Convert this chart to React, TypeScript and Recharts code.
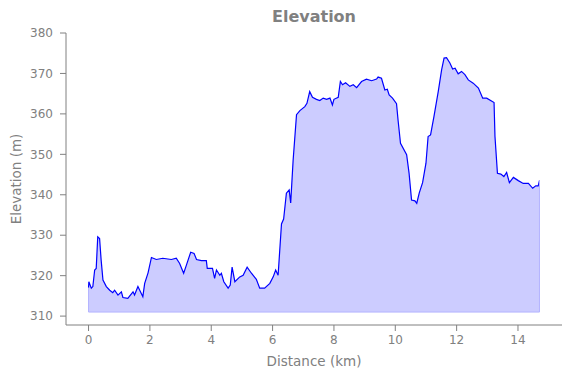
import React from "react";
import {
  AreaChart,
  Area,
  XAxis,
  YAxis,
  ReferenceLine,
} from "recharts";

// distance along the track (km)
const distanceKm = [
  0.0, 0.01, 0.09, 0.14, 0.2, 0.25, 0.3, 0.36, 0.41, 0.47, 0.58, 0.69, 0.79, 0.85,
  0.96, 1.07, 1.12, 1.28, 1.45, 1.5, 1.61, 1.77, 1.83, 1.94, 2.05, 2.21, 2.42, 2.7,
  2.86, 2.97, 3.1, 3.19, 3.33, 3.44, 3.52, 3.68, 3.84, 3.87, 4.04, 4.11, 4.17, 4.28,
  4.33, 4.41, 4.55, 4.62, 4.68, 4.77, 4.93, 5.04, 5.17, 5.31, 5.47, 5.58, 5.74, 5.91,
  6.02, 6.1, 6.18, 6.29, 6.36, 6.45, 6.54, 6.59, 6.67, 6.78, 6.89, 7.05, 7.12, 7.21,
  7.3, 7.43, 7.54, 7.65, 7.76, 7.87, 7.95, 8.0, 8.14, 8.21, 8.28, 8.38, 8.52, 8.63,
  8.74, 8.9, 9.06, 9.23, 9.39, 9.44, 9.55, 9.66, 9.74, 9.8, 9.91, 10.04, 10.09, 10.17,
  10.37, 10.45, 10.53, 10.64, 10.7, 10.78, 10.89, 11.0, 11.07, 11.15, 11.26, 11.4,
  11.51, 11.59, 11.67, 11.78, 11.87, 11.95, 12.05, 12.16, 12.27, 12.38, 12.54, 12.71,
  12.85, 12.98, 13.22, 13.25, 13.33, 13.44, 13.54, 13.63, 13.72, 13.85, 14.01, 14.17,
  14.34, 14.48, 14.58, 14.66, 14.7,
];

// elevation (m)
const elevationM = [
  317.0, 318.5, 316.9, 317.3, 321.4, 321.8, 329.6, 329.2, 323.9, 318.9, 317.3, 316.4,
  315.8, 316.4, 315.2, 316.0, 314.6, 314.4, 316.0, 315.2, 317.3, 314.8, 318.1, 320.7,
  324.5, 324.0, 324.3, 324.0, 324.3, 323.0, 320.6, 322.6, 325.8, 325.5, 324.0, 323.7,
  323.7, 321.8, 321.8, 319.3, 321.4, 320.1, 320.6, 318.5, 316.9, 317.7, 322.1, 318.5,
  319.7, 320.1, 322.1, 320.6, 319.1, 316.9, 316.9, 318.1, 319.7, 321.4, 320.1, 332.8,
  334.0, 340.4, 341.2, 338.0, 348.6, 359.8, 360.8, 361.8, 362.6, 365.5, 364.1, 363.6,
  363.3, 363.9, 363.6, 363.9, 362.2, 363.6, 364.1, 368.0, 367.2, 367.7, 366.8, 367.2,
  366.5, 368.0, 368.6, 368.2, 368.6, 369.1, 368.8, 365.9, 366.1, 364.7, 363.9, 362.5,
  358.5, 352.7, 349.9, 345.3, 338.7, 338.5, 337.9, 340.4, 343.0, 347.8, 354.4, 354.8,
  359.3, 365.5, 370.9, 373.8, 373.9, 372.6, 371.1, 371.3, 369.9, 370.5, 369.7, 368.4,
  367.6, 366.4, 363.9, 363.9, 362.8, 354.4, 345.3, 345.1, 344.5, 345.5, 343.0, 344.3,
  343.5, 342.8, 342.8, 341.6, 342.2, 342.2, 343.5,
];

const fillBase = 311;
const xTicks = [0, 2, 4, 6, 8, 10, 12, 14];
const yTicks = [310, 320, 330, 340, 350, 360, 370, 380];

const chartData = distanceKm.map((d, i) => ({ distance: d, elevation: elevationM[i] }));

const GRAY = "#808080";
const EDGE = "#b3b3ff";
const FONT = "'DejaVu Sans', sans-serif";

const App: React.FC = () => {
  const first = distanceKm[0];
  const last = distanceKm[distanceKm.length - 1];

  return (
    <div style={{ position: "relative", width: 571, height: 378, fontFamily: FONT }}>
      <style>{"body{margin:0}"}</style>
      <div
        style={{
          position: "absolute",
          left: 66,
          width: 496,
          top: 9,
          textAlign: "center",
          fontSize: 16,
          lineHeight: "16px",
          fontWeight: "bold",
          color: GRAY,
        }}
      >
        Elevation
      </div>
      <AreaChart
        width={571}
        height={378}
        data={chartData}
        margin={{ top: 33, right: 9, left: 0, bottom: 0 }}
      >
        <XAxis
          dataKey="distance"
          type="number"
          domain={[-0.735, 15.435]}
          ticks={xTicks}
          height={53}
          stroke={GRAY}
          tickSize={6}
          tickMargin={4}
          tick={{ fill: GRAY, fontSize: 12, fontFamily: FONT }}
          label={{
            value: "Distance (km)",
            position: "insideBottom",
            offset: 12,
            fill: GRAY,
            fontSize: 13.5,
            fontFamily: FONT,
          }}
        />
        <YAxis
          type="number"
          domain={[307.8, 380]}
          ticks={yTicks}
          width={66}
          stroke={GRAY}
          tickSize={6}
          tickMargin={7}
          tick={{ fill: GRAY, fontSize: 12, fontFamily: FONT }}
          label={{
            value: "Elevation (m)",
            content: ({ viewBox }: any) => {
              const cy = viewBox.y + viewBox.height / 2;
              return (
                <text
                  x={16}
                  y={cy}
                  transform={`rotate(-90, 16, ${cy})`}
                  textAnchor="middle"
                  dominantBaseline="central"
                  fill={GRAY}
                  fontSize={13.5}
                  fontFamily={FONT}
                >
                  Elevation (m)
                </text>
              );
            },
          }}
        />
        <Area
          type="linear"
          dataKey="elevation"
          baseValue={fillBase}
          fill="#ccccff"
          fillOpacity={1}
          stroke="#0000ff"
          strokeWidth={1.2}
          isAnimationActive={false}
          dot={false}
          activeDot={false}
        />
        <ReferenceLine
          segment={[
            { x: first, y: fillBase },
            { x: last, y: fillBase },
          ]}
          stroke={EDGE}
          strokeWidth={1}
        />
        <ReferenceLine
          segment={[
            { x: last, y: fillBase },
            { x: last, y: elevationM[elevationM.length - 1] },
          ]}
          stroke={EDGE}
          strokeWidth={1}
        />
        <ReferenceLine
          segment={[
            { x: first, y: fillBase },
            { x: first, y: elevationM[0] },
          ]}
          stroke={EDGE}
          strokeWidth={1}
        />
      </AreaChart>
    </div>
  );
};

export default App;
